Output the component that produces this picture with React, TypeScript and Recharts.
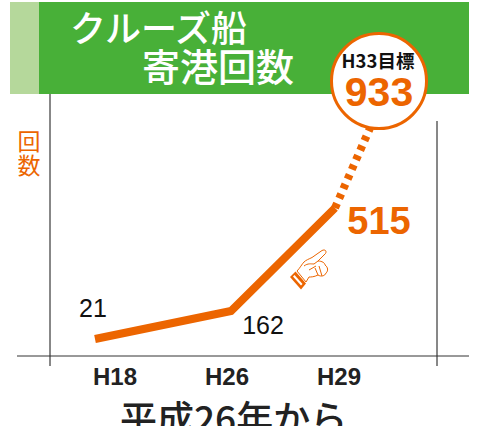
import { LineChart, Line, XAxis, YAxis } from "recharts";

const ORANGE = "#EC6500";
const SANS = "'Liberation Sans', Arial, sans-serif";
const CJK = "'Noto Sans CJK JP', sans-serif";

const years = [18, 26, 29, 33];
const actual = [21, 162, 515, null];
const target = [null, null, 515, 933];
const tickLabels = ["H18", "H26", "H29"];

// the picture is not to scale on either axis, so both axes use stops read from it
const xPixels = [95, 231, 335, 370];
const yStops = [0, 21, 162, 515, 933];
const yPixels = [356, 339, 311, 208, 128];
const tickNudge = [20, -4, 4];
const labelNudge = [
    { x: -2, y: -22 },
    { x: 32, y: 23 },
    { x: 44, y: 26 },
];

const data = years.map((year, i) => ({ year, actual: actual[i], target: target[i] }));

const stopScale = (stops: number[], pixels: number[]) => {
    const scale: any = (v: number) => {
        let i = 0;
        while (i < stops.length - 2 && v > stops[i + 1]) i++;
        const t = (v - stops[i]) / (stops[i + 1] - stops[i]);
        return pixels[i] + t * (pixels[i + 1] - pixels[i]);
    };
    scale.domain = (d?: number[]) => (d ? scale : [stops[0], stops[stops.length - 1]]);
    scale.range = (r?: number[]) => (r ? scale : [pixels[0], pixels[pixels.length - 1]]);
    scale.copy = () => stopScale(stops, pixels);
    scale.ticks = () => stops;
    return scale;
};

const XTick = ({ x, y, payload, index }: any) => (
    <text
        x={x + tickNudge[index]}
        y={y + 21}
        textAnchor="middle"
        fontFamily={SANS}
        fontWeight="bold"
        fontSize={24}
        fill="#222"
    >
        {tickLabels[index] ?? payload.value}
    </text>
);

const PointLabel = ({ x, y, value, index }: any) => {
    if (index > 2 || value == null) return null;
    const big = index === 2;
    return (
        <text
            x={x + labelNudge[index].x}
            y={y + labelNudge[index].y}
            textAnchor="middle"
            fontFamily={SANS}
            fontWeight={big ? "bold" : "normal"}
            fontSize={big ? 38 : 25}
            fill={big ? ORANGE : "#111"}
        >
            {value}
        </text>
    );
};

const Hand = () => (
    <g>
        <polygon points="295.5,271.5 306,283.5 301,289.5 290,277" fill={ORANGE} />
        <polygon points="294.5,275 302.5,284 301,285.5 293,276.5" fill="#fff" />
        <path
            d="M297 271 C300 268 302 264 304 262 C306 260 309 259 312 257.5 L322 250.5 C325 249 327 251 325.5 253.5 L318 261 C322 261 325 263 325 265 C328 267 328.5 271 326 273 C325 276 321 277 318 275 C314 277 311 277 309 277 L306 282 Z M304 266 C308 263 311 264 314 264 L318 261 M309 270 L316 266 M318 275 L315 268 M322 276 L319 266"
            fill="#fff"
            stroke={ORANGE}
            strokeWidth={1}
        />
    </g>
);

const App = () => {
    return (
        <div style={{ position: "absolute", left: 0, top: 0, width: 484, height: 426, overflow: "hidden", background: "#fff" }}>
            <LineChart width={484} height={426} data={data} margin={{ top: 0, right: 0, bottom: 0, left: 0 }}>
                <rect x={10} y={2} width={29} height={92} fill="#B5D89B" />
                <rect x={39} y={2} width={430} height={92} fill="#48B038" />
                <text x={70} y={42} fontFamily={CJK} fontWeight={500} fontSize={36} fill="#fff">クルーズ船</text>
                <text x={142} y={81} fontFamily={CJK} fontWeight={500} fontSize={38} fill="#fff">寄港回数</text>

                <line x1={50} y1={94} x2={50} y2={366} stroke="#111" strokeWidth={1} />
                <line x1={437} y1={121} x2={437} y2={366} stroke="#111" strokeWidth={1} />
                <line x1={17} y1={356} x2={469} y2={356} stroke="#333" strokeWidth={1} />

                <XAxis
                    dataKey="year"
                    type="number"
                    domain={[18, 33]}
                    ticks={[18, 26, 29]}
                    scale={stopScale(years, xPixels)}
                    height={70}
                    axisLine={false}
                    tickLine={false}
                    tick={<XTick />}
                    interval={0}
                />
                <YAxis hide width={0} type="number" domain={[0, 933]} scale={stopScale(yStops, yPixels)} />

                <Line
                    dataKey="target"
                    stroke={ORANGE}
                    strokeWidth={8}
                    strokeDasharray="5 5.5"
                    strokeLinecap="butt"
                    dot={false}
                    activeDot={false}
                    connectNulls={false}
                    isAnimationActive={false}
                />
                <Line
                    dataKey="actual"
                    stroke={ORANGE}
                    strokeWidth={8}
                    strokeLinecap="butt"
                    dot={false}
                    activeDot={false}
                    connectNulls={false}
                    label={<PointLabel />}
                    isAnimationActive={false}
                />

                <circle cx={379} cy={81} r={47.5} fill="#fff" stroke={ORANGE} strokeWidth={3} />
                <text x={378} y={68} textAnchor="middle" fontFamily={CJK} fontWeight={700} fontSize={18.5} fill="#111">H33目標</text>
                <text x={379} y={106} textAnchor="middle" fontFamily={SANS} fontWeight="bold" fontSize={41} fill={ORANGE}>{target[3]}</text>

                <text x={29} y={150} textAnchor="middle" fontFamily={CJK} fontSize={23} fill={ORANGE}>回</text>
                <text x={29} y={174} textAnchor="middle" fontFamily={CJK} fontSize={23} fill={ORANGE}>数</text>

                <Hand />

                <text x={120} y={433} fontFamily={CJK} fontWeight={500} fontSize={37} fill="#222">平成26年から</text>
            </LineChart>
        </div>
    );
};

export default App;
